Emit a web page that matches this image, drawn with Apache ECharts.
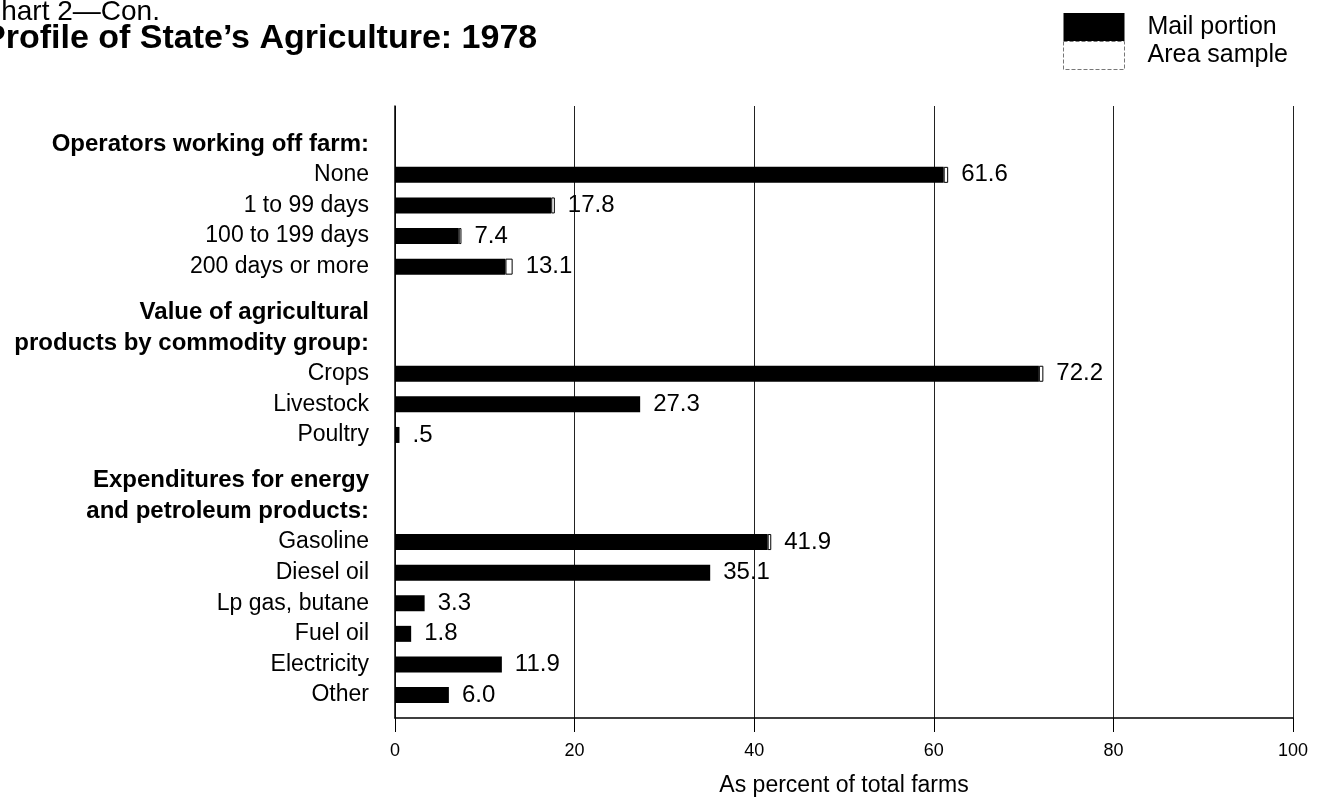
<!DOCTYPE html>
<html>
<head>
<meta charset="utf-8">
<script src="https://cdn.jsdelivr.net/npm/echarts@6/dist/echarts.min.js"></script>
<style>
  html, body { margin: 0; padding: 0; background: #fff; }
  #chart { width: 1327px; height: 803px; }
</style>
</head>
<body>
<div id="chart"></div>
<script>
// Profile of State's Agriculture: 1978 — mail portion vs area sample, % of total farms
const groupHeaders = [
  ['Operators working off farm:'],
  ['Value of agricultural', 'products by commodity group:'],
  ['Expenditures for energy', 'and petroleum products:'],
]
const items = ['None', '1 to 99 days', '100 to 199 days', '200 days or more',
  'Crops', 'Livestock', 'Poultry',
  'Gasoline', 'Diesel oil', 'Lp gas, butane', 'Fuel oil', 'Electricity', 'Other']
const itemGroup = [0, 0, 0, 0, 1, 1, 1, 2, 2, 2, 2, 2, 2]
const mailPortion = [61.1, 17.4, 7.1, 12.3, 71.7, 27.3, 0.5, 41.5, 35.1, 3.3, 1.8, 11.9, 6.0]
const areaSample  = [0.5, 0.4, 0.3, 0.8, 0.5, 0, 0, 0.4, 0, 0, 0, 0, 0]
const totalLabels = ['61.6', '17.8', '7.4', '13.1', '72.2', '27.3', '.5', '41.9', '35.1', '3.3', '1.8', '11.9', '6.0']
const xTicks = [0, 20, 40, 60, 80, 100]

const FONT = '"Liberation Sans", Arial, Helvetica, sans-serif'

// build rows: every row is followed by a half-step spacer, groups get one extra spacer
const rows = []
let gap = 0
const spacer = () => rows.push({ name: '_gap' + (gap++) })
spacer(); spacer()
groupHeaders.forEach((hdr, g) => {
  if (g > 0) spacer()
  hdr.forEach(h => { rows.push({ name: h, header: true }); spacer() })
  items.forEach((it, i) => {
    if (itemGroup[i] !== g) return
    rows.push({ name: it, item: i }); spacer()
  })
})

const yData = rows.map(r => r.header
  ? { value: r.name, textStyle: { fontWeight: 'bold', fontSize: 24 } }
  : r.name)
const mailData = rows.map(r => r.item === undefined ? null : mailPortion[r.item])
const areaData = rows.map(r => {
  if (r.item === undefined) return null
  const v = areaSample[r.item]
  return v > 0 ? v : { value: 0, itemStyle: { borderWidth: 0 } }
})

const chart = echarts.init(document.getElementById('chart'), null, { renderer: 'canvas' })
chart.setOption({
  backgroundColor: '#ffffff',
  animation: false,
  textStyle: { fontFamily: FONT, color: '#000' },
  title: [
    { text: 'Chart 2\u2014Con.', left: -24, top: -7,
      textStyle: { fontFamily: FONT, fontSize: 28, fontWeight: 'normal', color: '#000' } },
    { text: 'Profile of State\u2019s Agriculture: 1978', left: -22, top: 17,
      textStyle: { fontFamily: FONT, fontSize: 34, fontWeight: 'bold', color: '#000' } },
  ],
  legend: {
    orient: 'vertical',
    left: 1058,
    top: 8,
    icon: 'rect',
    itemWidth: 61,
    itemHeight: 28,
    itemGap: 0,
    textStyle: { fontFamily: FONT, fontSize: 25, color: '#000', padding: [0, 0, 0, 18] },
    data: [
      { name: 'Mail portion', textStyle: { padding: [8, 0, 0, 18] } },
      { name: 'Area sample', itemStyle: { color: '#fff', borderColor: '#777', borderWidth: 1, borderType: 'dashed' } },
    ],
  },
  grid: { left: 395, right: 34, top: 106, bottom: 85 },
  xAxis: {
    type: 'value',
    min: 0,
    max: 100,
    interval: 20,
    name: 'As percent of total farms',
    nameLocation: 'middle',
    nameGap: 56,
    nameTextStyle: { fontFamily: FONT, fontSize: 23, color: '#000' },
    axisLine: { show: true, lineStyle: { color: '#000', width: 1.5 } },
    axisTick: { show: true, length: 14, lineStyle: { color: '#000' } },
    axisLabel: { fontFamily: FONT, fontSize: 18, color: '#000', margin: 24,
      formatter: v => xTicks.includes(v) ? String(v) : '' },
    splitLine: { show: true, lineStyle: { color: '#222', width: 1 } },
  },
  yAxis: {
    type: 'category',
    inverse: true,
    data: yData,
    axisLine: { show: true, lineStyle: { color: '#000', width: 1.5 } },
    axisTick: { show: false },
    axisLabel: {
      interval: 0,
      margin: 26,
      fontFamily: FONT,
      fontSize: 23,
      color: '#000',
      formatter: v => v.startsWith('_gap') ? '' : v,
    },
  },
  series: [
    {
      name: 'Mail portion',
      type: 'bar',
      stack: 'farms',
      barWidth: 16,
      data: mailData,
      itemStyle: { color: '#000' },
    },
    {
      name: 'Area sample',
      type: 'bar',
      stack: 'farms',
      barWidth: 16,
      data: areaData,
      itemStyle: { color: '#fff', borderColor: '#000', borderWidth: 1 },
      label: {
        show: true,
        position: 'right',
        distance: 13,
        fontFamily: FONT,
        fontSize: 24,
        color: '#000',
        formatter: p => {
          const r = rows[p.dataIndex]
          return r.item === undefined ? '' : totalLabels[r.item]
        },
      },
    },
  ],
})
</script>
</body>
</html>
